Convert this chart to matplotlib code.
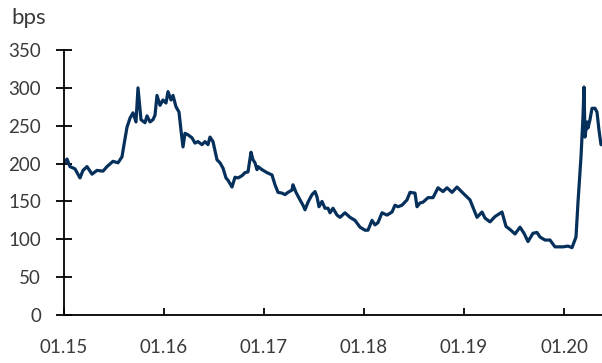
import matplotlib
matplotlib.use('Agg')
import matplotlib.pyplot as plt

# credit spread, bps, time as decimal years
years = [
    2015.00, 2015.03, 2015.06, 2015.11, 2015.16, 2015.19, 2015.23, 2015.28,
    2015.33, 2015.39, 2015.43, 2015.49, 2015.54, 2015.58, 2015.60, 2015.63,
    2015.66, 2015.69, 2015.72, 2015.74, 2015.77, 2015.81, 2015.83, 2015.86,
    2015.89, 2015.91, 2015.93, 2015.96, 2015.99, 2016.02, 2016.04, 2016.07,
    2016.09, 2016.12, 2016.15, 2016.17, 2016.19, 2016.21, 2016.24, 2016.28,
    2016.31, 2016.34, 2016.38, 2016.41, 2016.44, 2016.46, 2016.49, 2016.53,
    2016.56, 2016.59, 2016.62, 2016.64, 2016.68, 2016.71, 2016.74, 2016.78,
    2016.81, 2016.84, 2016.87, 2016.89, 2016.91, 2016.93, 2016.94, 2016.98,
    2017.03, 2017.08, 2017.11, 2017.14, 2017.18, 2017.21, 2017.24, 2017.28,
    2017.29, 2017.32, 2017.36, 2017.39, 2017.41, 2017.44, 2017.48, 2017.51,
    2017.53, 2017.55, 2017.58, 2017.61, 2017.64, 2017.66, 2017.69, 2017.73,
    2017.76, 2017.81, 2017.86, 2017.91, 2017.96, 2018.01, 2018.04, 2018.08,
    2018.11, 2018.14, 2018.18, 2018.23, 2018.28, 2018.31, 2018.34, 2018.38,
    2018.43, 2018.46, 2018.51, 2018.53, 2018.56, 2018.59, 2018.64, 2018.69,
    2018.74, 2018.79, 2018.83, 2018.88, 2018.93, 2018.99, 2019.06, 2019.13,
    2019.18, 2019.21, 2019.26, 2019.31, 2019.38, 2019.42, 2019.46, 2019.51,
    2019.56, 2019.60, 2019.64, 2019.69, 2019.73, 2019.76, 2019.81, 2019.86,
    2019.91, 2019.95, 2019.99, 2020.04, 2020.08, 2020.12, 2020.14, 2020.17,
    2020.19, 2020.20, 2020.21, 2020.23, 2020.24, 2020.26, 2020.28, 2020.31,
    2020.33, 2020.35, 2020.37, 2020.38,
]
spread = [
    200, 206, 196, 193, 181, 191, 196, 186,
    191, 190, 196, 203, 201, 209, 225, 248,
    260, 267, 255, 300, 258, 254, 263, 255,
    258, 264, 290, 277, 284, 280, 295, 284,
    290, 275, 268, 244, 222, 240, 238, 234,
    227, 229, 225, 229, 225, 235, 229, 205,
    201, 194, 181, 178, 169, 182, 181, 184,
    188, 189, 215, 205, 201, 192, 196, 192,
    188, 185, 172, 162, 161, 159, 162, 165,
    172, 162, 152, 145, 139, 149, 159, 163,
    156, 143, 150, 141, 141, 135, 141, 132,
    129, 135, 129, 125, 116, 112, 112, 125,
    119, 122, 135, 132, 136, 145, 143, 145,
    152, 162, 161, 143, 148, 149, 155, 155,
    168, 163, 168, 162, 169, 161, 152, 129,
    136, 128, 123, 130, 136, 117, 113, 107,
    116, 108, 97, 108, 109, 103, 99, 99,
    90, 90, 90, 91, 89, 103, 149, 209,
    262, 301, 235, 255, 247, 258, 273, 273,
    268, 244, 225, 225,
]
tick_years = [2015, 2016, 2017, 2018, 2019, 2020]
tick_labels = ['01.15', '01.16', '01.17', '01.18', '01.19', '01.20']
y_ticks = [0, 50, 100, 150, 200, 250, 300, 350]

plt.rcParams['font.family'] = ['Lato', 'DejaVu Sans']

fig = plt.figure(figsize=(6.02, 3.63), dpi=100)
ax = fig.add_axes([64 / 602, 1 - 315 / 363, 1 - 64 / 602, 265 / 363])

ax.plot(years, spread, color='#06305c', linewidth=2.3, solid_joinstyle='round')

ax.set_xlim(2015.0, 2020.38)
ax.set_ylim(0, 350)
ax.set_xticks(tick_years)
ax.set_xticklabels(tick_labels)
ax.set_yticks(y_ticks)

for side in ['top', 'right']:
    ax.spines[side].set_visible(False)
for side in ['left', 'bottom']:
    ax.spines[side].set_linewidth(1.3)
    ax.spines[side].set_color('black')

ax.tick_params(axis='y', direction='inout', length=11, width=1.3, pad=11,
               labelsize=13.5, labelcolor='#3a3a3a')
ax.tick_params(axis='x', direction='in', length=5, width=1.3, pad=17,
               labelsize=13.5, labelcolor='#3a3a3a')

fig.text(11 / 602, 1 - 18 / 363, 'bps', fontsize=16, color='#3a3a3a',
         ha='left', va='center')

fig.savefig('out.png', dpi=100)
